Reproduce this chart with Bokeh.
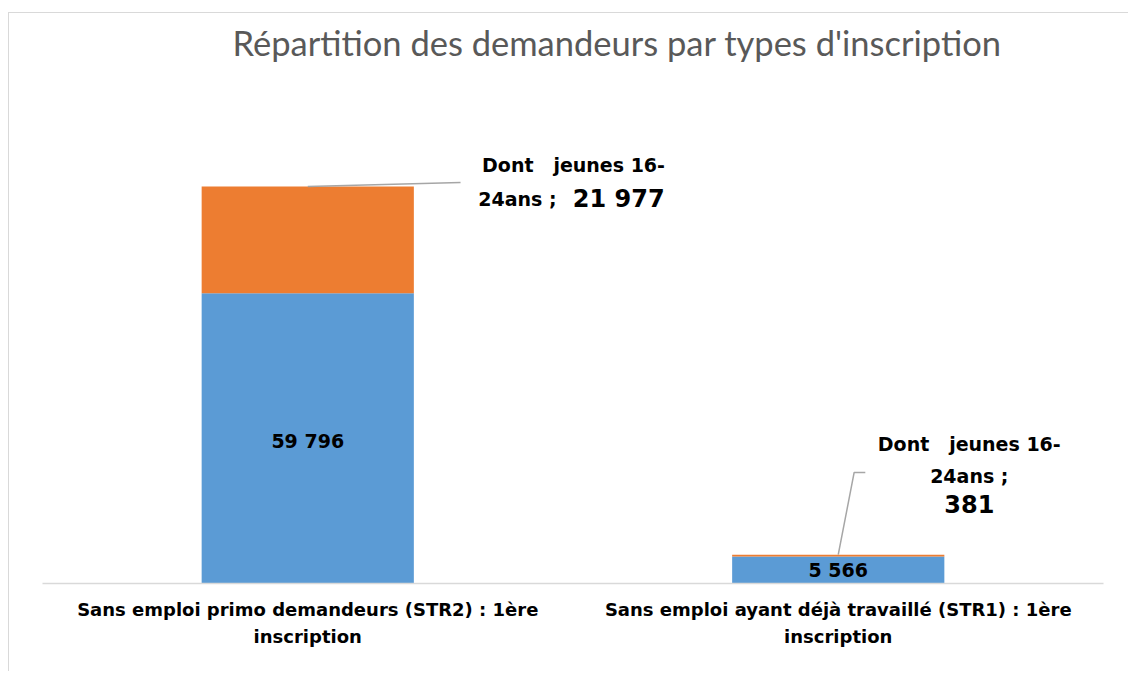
from bokeh.plotting import figure
from bokeh.models import FactorRange, Range1d, ColumnDataSource
from bokeh.core.properties import value
from bokeh.embed import file_html
from bokeh.resources import INLINE

# ---- data ----
categories = [
    "Sans emploi primo demandeurs (STR2) : 1ère\ninscription",
    "Sans emploi ayant déjà travaillé (STR1) : 1ère\ninscription",
]
total_values = [59796, 5566]
jeunes_values = [21977, 381]
title_text = "Répartition des demandeurs par types d'inscription"
annot_prefix = "Dont \u00a0 jeunes 16-"
annot_mid = "24ans ;"

BLUE = "#5B9BD5"
ORANGE = "#ED7D31"
FONT = "DejaVu Sans"

def fmt(v):
    return f"{v:,}".replace(",", " ")

p = figure(
    x_range=FactorRange(factors=categories, range_padding=0),
    y_range=Range1d(0, 106080),
    width=1120, height=659,
    min_border_left=33, min_border_right=26,
    min_border_top=55, min_border_bottom=89,
    output_backend="svg", toolbar_location=None,
    title=title_text,
)
p.styles = {"margin-left": "8px", "margin-top": "12px",
            "border-left": "1.5px solid #d9d9d9", "border-top": "1.5px solid #d9d9d9"}
p.x_range.factor_padding = 0
p.outline_line_color = None
p.grid.visible = False
p.yaxis.visible = False

p.title.align = "left"
p.title.offset = 190
p.title.standoff = 12
p.title.text_font = "Lato"
p.title.text_font_style = "normal"
p.title.text_font_size = "34.5px"
p.title.text_color = "#595959"

ax = p.xaxis[0]
ax.axis_line_color = "#d9d9d9"
ax.axis_line_width = 1.5
ax.major_tick_line_color = None
ax.minor_tick_line_color = None
ax.major_label_text_font = FONT
ax.major_label_text_font_style = "bold"
ax.major_label_text_font_size = "18px"
ax.major_label_text_color = "#000000"
ax.major_label_standoff = 9
ax.major_label_text_line_height = 1.3

src = ColumnDataSource(dict(cat=categories, blue=total_values, orange=jeunes_values))
p.vbar_stack(["blue", "orange"], x="cat", width=0.4, color=[BLUE, ORANGE],
             line_color=None, source=src)

def txt(x, y, t, size, align="center"):
    p.text(x=[x], y=[y], text=[t], text_font=value(FONT), text_font_style="bold",
           text_font_size=size, text_align=align, text_baseline="middle",
           text_color="black")

# value labels inside blue bars
txt(categories[0], total_values[0] / 2 - 500, fmt(total_values[0]), "19px")
txt(categories[1], total_values[1] / 2, fmt(total_values[1]), "19px")

# annotation 1
top1 = total_values[0] + jeunes_values[0]
p.line(x=[(categories[0], 0.0), (categories[0], 0.288)], y=[top1, 82600],
       line_color="#a6a6a6", line_width=1.5)
txt((categories[0], 0.501), 86100, annot_prefix, "19px")
txt((categories[0], 0.469), 79200, annot_mid, "19px", align="right")
txt((categories[0], 0.4995), 79200, fmt(jeunes_values[0]), "24px", align="left")

# annotation 2
top2 = total_values[1] + jeunes_values[1]
p.line(x=[(categories[1], 0.0), (categories[1], 0.030), (categories[1], 0.051)],
       y=[top2, 22870, 22870], line_color="#a6a6a6", line_width=1.5)
txt((categories[1], 0.247), 28800, annot_prefix, "19px")
txt((categories[1], 0.247), 22200, annot_mid, "19px")
txt((categories[1], 0.247), 16300, fmt(jeunes_values[1]), "24px")

open("out.html", "w").write(file_html(p, INLINE))
